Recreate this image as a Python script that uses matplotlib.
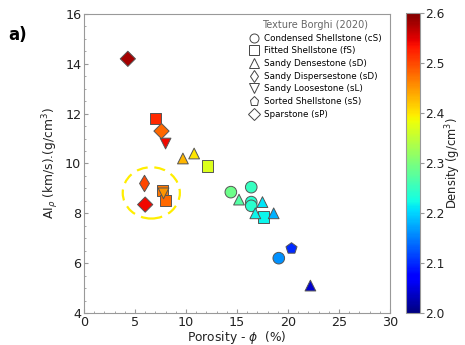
import matplotlib.pyplot as plt
from matplotlib.lines import Line2D
from matplotlib.patches import Ellipse

# Samples: porosity (%), AI (km/s.g/cm3), density (g/cm3), texture marker
porosity = [4.3, 7.0, 7.6, 8.0, 9.7, 10.8, 12.1, 5.9, 7.7, 7.8, 8.0, 6.0,
            14.4, 15.2, 16.4, 16.4, 16.4, 17.5, 16.8, 17.6, 18.6, 20.3, 19.1, 22.2]
ai = [14.2, 11.8, 11.3, 10.8, 10.2, 10.4, 9.9, 9.2, 8.9, 8.8, 8.5, 8.35,
      8.85, 8.55, 9.05, 8.45, 8.3, 8.45, 8.0, 7.85, 8.0, 6.6, 6.2, 5.1]
density = [2.58, 2.52, 2.48, 2.54, 2.43, 2.40, 2.37, 2.50, 2.47, 2.45, 2.48, 2.54,
           2.29, 2.27, 2.25, 2.24, 2.24, 2.21, 2.22, 2.22, 2.18, 2.10, 2.16, 2.04]
texture = ['D', 's', 'D', 'v', '^', '^', 's', 'd', 's', 'v', 's', 'D',
           'o', '^', 'o', 'o', 'o', '^', '^', 's', '^', 'p', 'o', '^']

legend_names = ['Condensed Shellstone (cS)', 'Fitted Shellstone (fS)',
                'Sandy Densestone (sD)', 'Sandy Dispersestone (sD)',
                'Sandy Loosestone (sL)', 'Sorted Shellstone (sS)', 'Sparstone (sP)']
legend_markers = ['o', 's', '^', 'd', 'v', 'p', 'D']

sizes = {'o': 70, 's': 65, '^': 60, 'v': 60, 'd': 70, 'p': 70, 'D': 60}

fig = plt.figure(figsize=(4.65, 3.45), dpi=100)
ax = fig.add_axes([0.1806, 0.0928, 0.658, 0.8667])
cax = fig.add_axes([0.873, 0.0928, 0.0301, 0.8696])

for m in legend_markers:
    idx = [i for i in range(len(texture)) if texture[i] == m]
    if not idx:
        continue
    sc = ax.scatter([porosity[i] for i in idx], [ai[i] for i in idx],
                    c=[density[i] for i in idx], cmap='jet', vmin=2.0, vmax=2.6,
                    marker=m, s=sizes[m], edgecolors='#555555', linewidths=0.7,
                    zorder=3)

# dashed yellow ring round the low porosity group
ax.add_patch(Ellipse((6.6, 8.82), 5.6, 2.06, fill=False, edgecolor='#ffee00',
                     linestyle=(0, (5, 3)), linewidth=1.6, zorder=2))

ax.set_xlim(0, 30)
ax.set_ylim(4, 16)
ax.set_xticks(range(0, 31, 5))
ax.set_yticks(range(4, 17, 2))
ax.minorticks_on()
ax.tick_params(which='major', direction='in', length=3, labelsize=9.2, pad=2,
               colors='#999999', labelcolor='#222222')
ax.tick_params(which='minor', direction='in', length=1.5, colors='#999999')
for sp in ax.spines.values():
    sp.set_color('#999999')
ax.set_xlabel(r'Porosity - $\phi$  (%)', fontsize=8.8, color='#222222', labelpad=0)
ax.set_ylabel(r'AI$_\rho$ (km/s).(g/cm$^3$)', fontsize=8.8, color='#222222', labelpad=3)

handles = [Line2D([], [], marker=m, linestyle='none', markerfacecolor='white',
                  markeredgecolor='#444444', markeredgewidth=0.7, markersize=6.5)
           for m in legend_markers]
leg = ax.legend(handles, legend_names, title='Texture Borghi (2020)',
                loc='upper left', bbox_to_anchor=(0.52, 1.0), frameon=False,
                fontsize=6.3, title_fontsize=7, handletextpad=0.5,
                labelspacing=0.42, borderaxespad=0.3, handlelength=1.2)
leg.get_title().set_color('#666666')

cb = fig.colorbar(sc, cax=cax)
cb.set_ticks([2.0, 2.1, 2.2, 2.3, 2.4, 2.5, 2.6])
cb.ax.tick_params(labelsize=8.8, length=3, pad=1, colors='#999999', labelcolor='#222222')
cb.outline.set_edgecolor('#999999')
cb.set_label(r'Density (g/cm$^3$)', fontsize=8.3, color='#222222', labelpad=-1)

fig.text(0.017, 0.885, 'a)', fontsize=12, fontweight='bold')

fig.savefig('out.png', dpi=100)
